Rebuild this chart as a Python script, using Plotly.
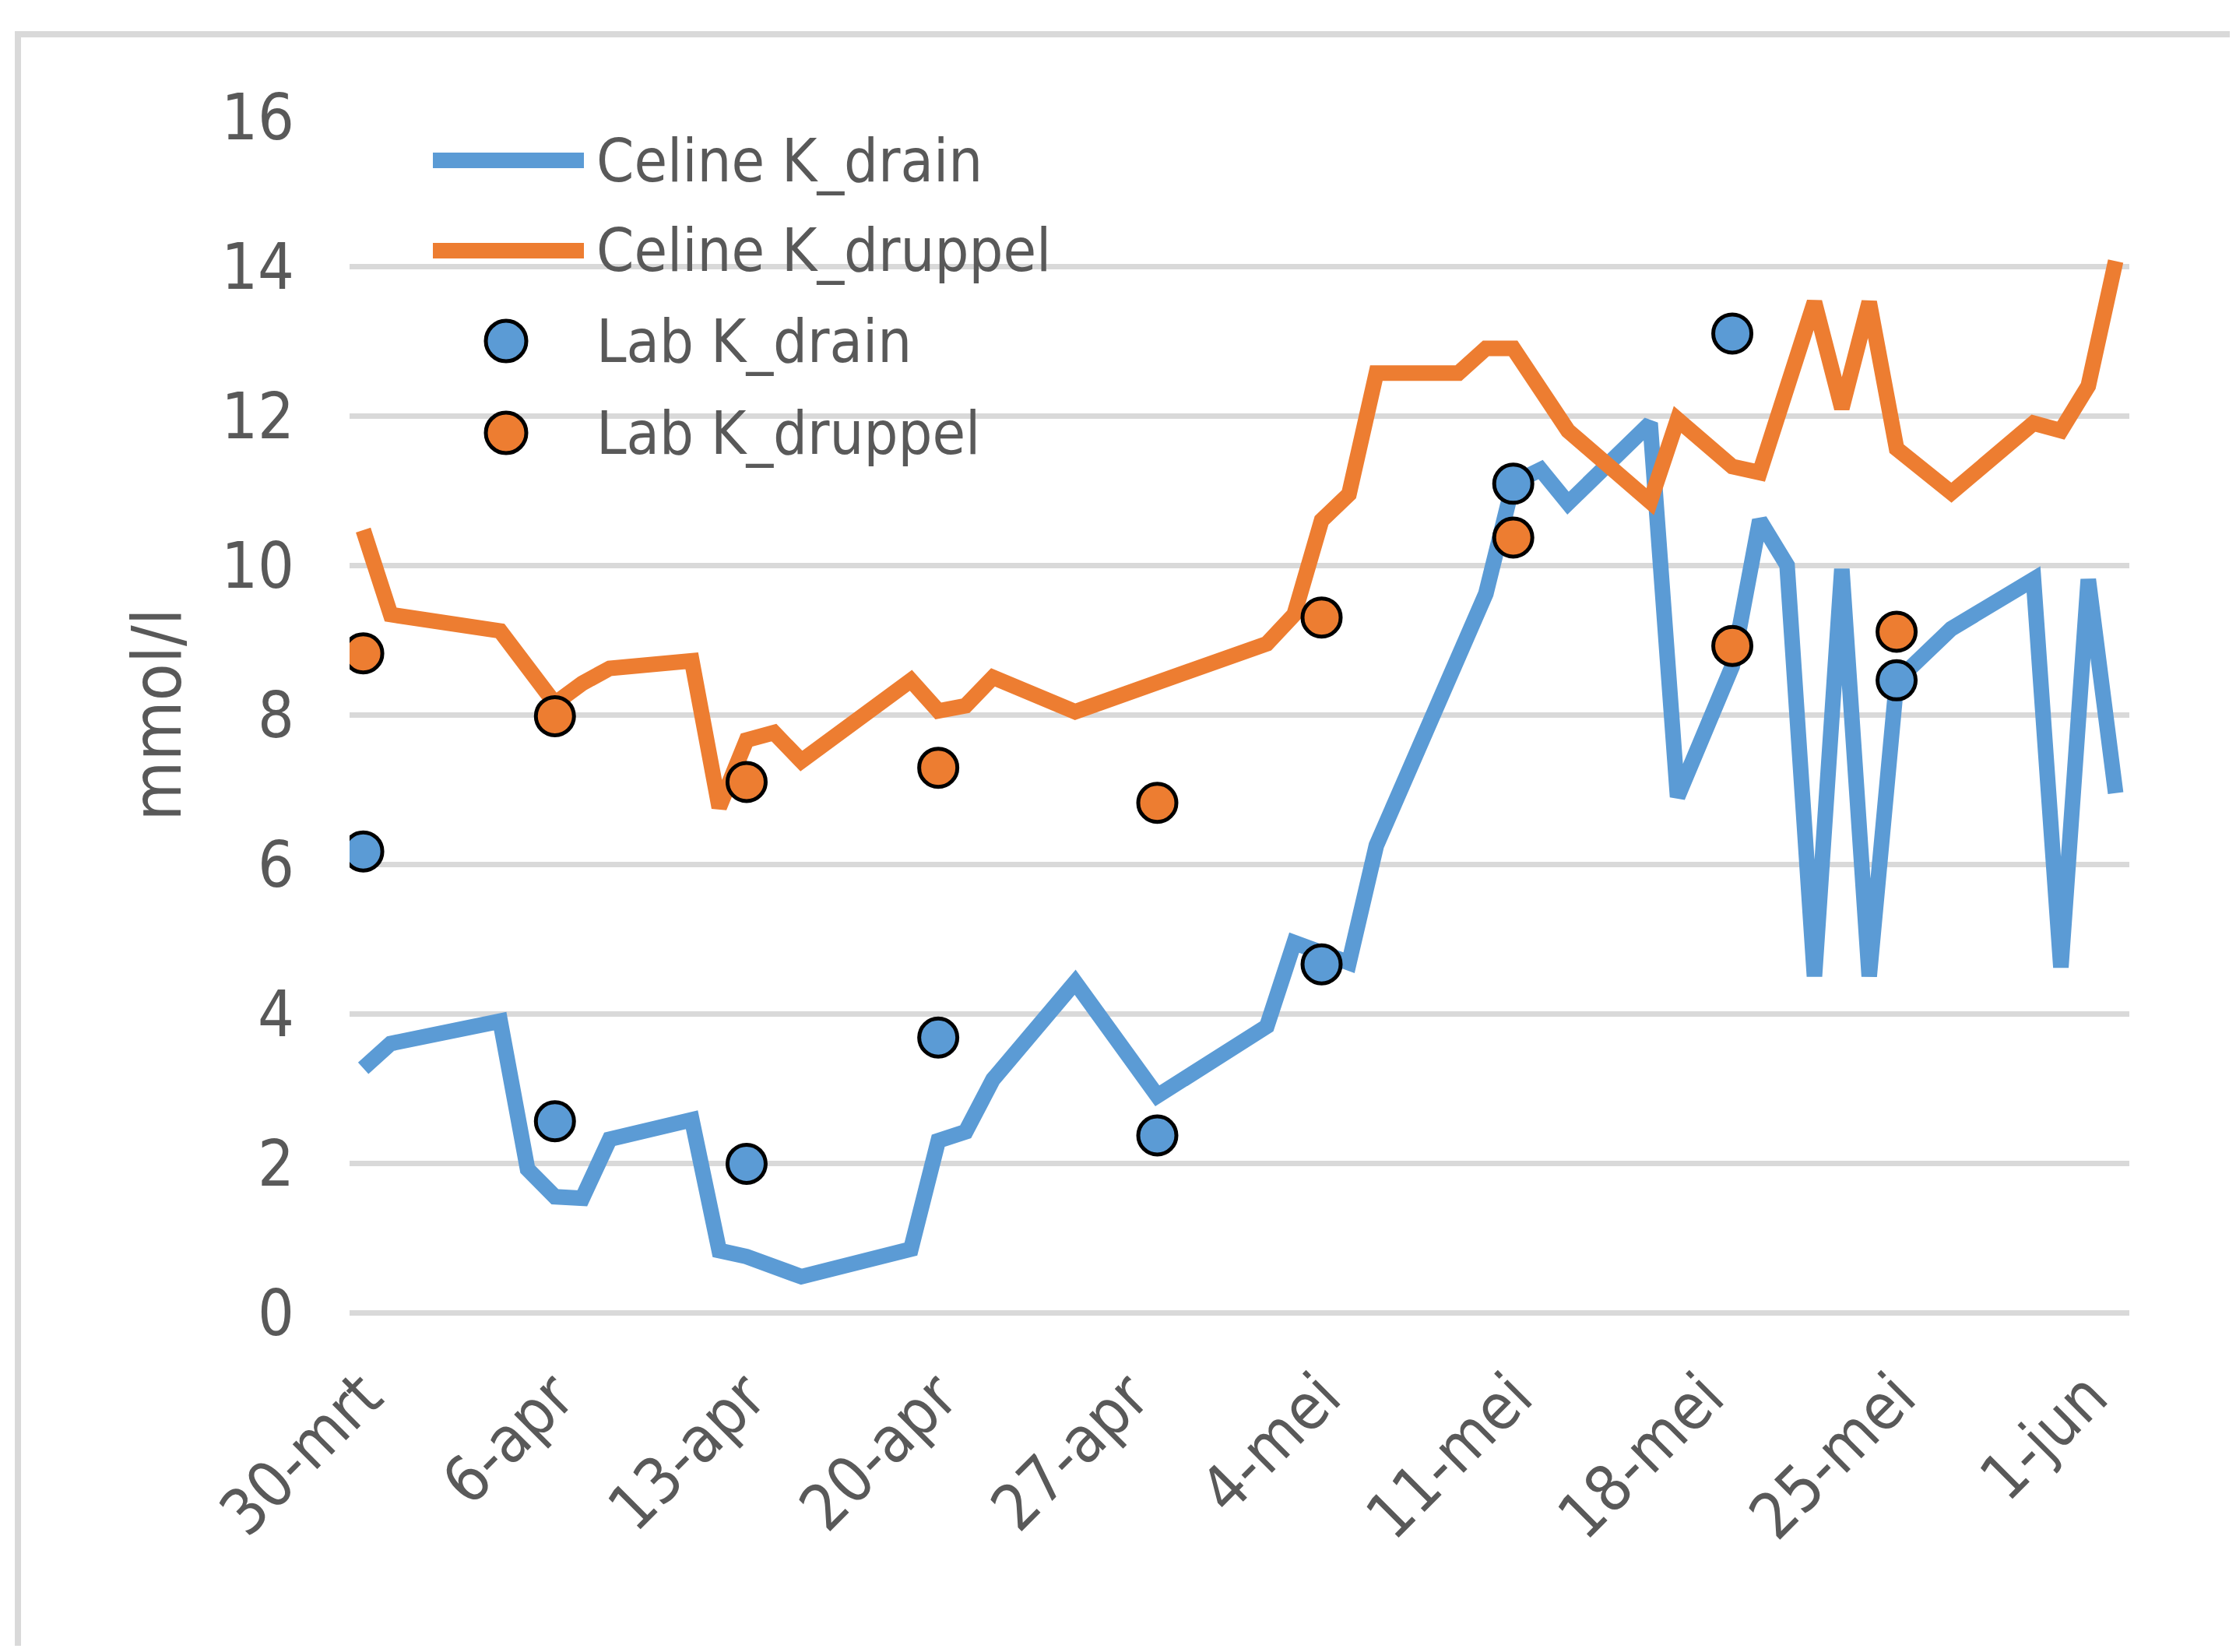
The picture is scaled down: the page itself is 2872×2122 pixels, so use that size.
import plotly.graph_objects as go

# ---------------- data ----------------
celine_drain_dates = ["2015-03-30", "2015-03-31", "2015-04-04", "2015-04-05", "2015-04-06", "2015-04-07",
                      "2015-04-08", "2015-04-11", "2015-04-12", "2015-04-13", "2015-04-15", "2015-04-19",
                      "2015-04-20", "2015-04-21", "2015-04-22", "2015-04-25", "2015-04-28", "2015-05-02",
                      "2015-05-03", "2015-05-05", "2015-05-06", "2015-05-10", "2015-05-11", "2015-05-12",
                      "2015-05-13", "2015-05-16", "2015-05-17", "2015-05-19", "2015-05-20", "2015-05-21",
                      "2015-05-22", "2015-05-23", "2015-05-24", "2015-05-25", "2015-05-27", "2015-05-30",
                      "2015-05-31", "2015-06-01", "2015-06-02"]
celine_drain_values = [3.27, 3.6, 3.9, 1.92, 1.55, 1.53,
                       2.32, 2.58, 0.83, 0.75, 0.48, 0.85,
                       2.3, 2.42, 3.12, 4.42, 2.9, 3.83,
                       4.95, 4.68, 6.25, 9.62, 11.1, 11.28,
                       10.83, 11.9, 6.9, 8.65, 10.6, 10.0,
                       4.5, 9.95, 4.5, 8.45, 9.15, 9.81,
                       4.62, 9.81, 6.95]

celine_druppel_dates = ["2015-03-30", "2015-03-31", "2015-04-04", "2015-04-06", "2015-04-07", "2015-04-08",
                        "2015-04-11", "2015-04-12", "2015-04-13", "2015-04-14", "2015-04-15", "2015-04-19",
                        "2015-04-20", "2015-04-21", "2015-04-22", "2015-04-25", "2015-05-02", "2015-05-03",
                        "2015-05-04", "2015-05-05", "2015-05-06", "2015-05-09", "2015-05-10", "2015-05-11",
                        "2015-05-13", "2015-05-16", "2015-05-17", "2015-05-19", "2015-05-20", "2015-05-22",
                        "2015-05-23", "2015-05-24", "2015-05-25", "2015-05-27", "2015-05-30", "2015-05-31",
                        "2015-06-01", "2015-06-02"]
celine_druppel_values = [10.47, 9.34, 9.12, 8.15, 8.42, 8.62,
                         8.72, 6.76, 7.66, 7.76, 7.38, 8.46,
                         8.05, 8.12, 8.5, 8.04, 8.95, 9.34,
                         10.6, 10.95, 12.57, 12.57, 12.9, 12.9,
                         11.8, 10.85, 11.95, 11.32, 11.24, 13.52,
                         12.1, 13.52, 11.56, 10.97, 11.9, 11.8,
                         12.4, 14.07]

lab_dates = ["2015-03-30", "2015-04-06", "2015-04-13", "2015-04-20", "2015-04-28",
             "2015-05-04", "2015-05-11", "2015-05-19", "2015-05-25"]
lab_drain_values = [6.17, 2.56, 1.99, 3.68, 2.37, 4.66, 11.09, 13.1, 8.46]
lab_druppel_values = [8.82, 7.98, 7.1, 7.29, 6.82, 9.3, 10.37, 8.92, 9.11]

series_names = ["Celine K_drain", "Celine K_druppel", "Lab K_drain", "Lab K_druppel"]

tick_dates = ["2015-03-30", "2015-04-06", "2015-04-13", "2015-04-20", "2015-04-27",
              "2015-05-04", "2015-05-11", "2015-05-18", "2015-05-25", "2015-06-01"]
tick_labels = ["30-mrt", "6-apr", "13-apr", "20-apr", "27-apr",
               "4-mei", "11-mei", "18-mei", "25-mei", "1-jun"]
y_ticks = [0, 2, 4, 6, 8, 10, 12, 14, 16]

# ---------------- style ----------------
OFF = 8  # default page body margin of the html page
W, H = 2872 - 2 * OFF, 2122 - 2 * OFF
L, R, T, B = 449 - OFF, 2735 - OFF, 150 - OFF, 1686 - OFF
BLUE = "#5B9BD5"
ORANGE = "#ED7D31"
TXT = "#595959"
GRID = "#D9D9D9"
FONT = "Liberation Sans Narrow, DejaVu Sans Condensed, Roboto Condensed, Liberation Sans, sans-serif"
LW = 20


def px(xp):
    return (xp - OFF - L) / (R - L)


def py(yp):
    return (B - (yp - OFF)) / (B - T)


fig = go.Figure()
fig.add_trace(go.Scatter(x=celine_drain_dates, y=celine_drain_values, mode="lines",
                         name=series_names[0], line=dict(color=BLUE, width=LW), showlegend=False))
fig.add_trace(go.Scatter(x=celine_druppel_dates, y=celine_druppel_values, mode="lines",
                         name=series_names[1], line=dict(color=ORANGE, width=LW), showlegend=False))
fig.add_trace(go.Scatter(x=lab_dates, y=lab_drain_values, mode="markers", name=series_names[2],
                         marker=dict(color=BLUE, size=49, line=dict(color="black", width=5)),
                         showlegend=False))
fig.add_trace(go.Scatter(x=lab_dates, y=lab_druppel_values, mode="markers", name=series_names[3],
                         marker=dict(color=ORANGE, size=49, line=dict(color="black", width=5)),
                         showlegend=False))

shapes = []
# outer chart border (cropped on right/bottom in reference)
shapes.append(dict(type="rect", xref="paper", yref="paper",
                   x0=px(23), x1=px(2950), y0=py(44), y1=py(2200),
                   line=dict(color=GRID, width=8), fillcolor="rgba(0,0,0,0)", layer="below"))

# custom legend (long line samples as in the reference)
leg_rows = [206, 322, 438, 556]
leg_text_x = 764
for i, (name, color) in enumerate(zip(series_names, [BLUE, ORANGE, BLUE, ORANGE])):
    yc = leg_rows[i]
    if i < 2:
        shapes.append(dict(type="line", xref="paper", yref="paper",
                           x0=px(556), x1=px(750), y0=py(yc), y1=py(yc),
                           line=dict(color=color, width=20), layer="above"))
    else:
        r = 26
        shapes.append(dict(type="circle", xref="paper", yref="paper",
                           x0=px(650 - r), x1=px(650 + r), y0=py(yc + r), y1=py(yc - r),
                           fillcolor=color, line=dict(color="black", width=5), layer="above"))

annotations = []
for i, name in enumerate(series_names):
    annotations.append(dict(x=px(leg_text_x), y=py(leg_rows[i]), xref="paper", yref="paper",
                            text=name, showarrow=False, xanchor="left", yanchor="middle",
                            font=dict(family=FONT, size=77, color=TXT)))

fig.update_layout(
    width=W, height=H,
    margin=dict(l=L, r=W - R, t=T, b=H - B, pad=0),
    paper_bgcolor="white", plot_bgcolor="white",
    showlegend=False,
    shapes=shapes,
    annotations=annotations,
    font=dict(family=FONT, color=TXT),
)
fig.update_xaxes(
    type="date",
    range=["2015-03-29 12:00", "2015-06-02 12:00"],
    tickmode="array", tickvals=tick_dates, ticktext=tick_labels,
    tickangle=-45, tickfont=dict(family=FONT, size=82, color=TXT),
    showgrid=False, zeroline=False, showline=False, ticks="",
    ticklabelstandoff=42,
)
fig.update_yaxes(
    range=[0, 16], tickmode="array", tickvals=y_ticks,
    tickfont=dict(family=FONT, size=82, color=TXT),
    showgrid=True, gridcolor=GRID, gridwidth=7,
    zeroline=True, zerolinecolor=GRID, zerolinewidth=7,
    showline=False, ticks="", ticklabelstandoff=70,
    title=dict(text="mmol/l", font=dict(family=FONT, size=88, color=TXT), standoff=22),
)

fig.write_html("out.html")
